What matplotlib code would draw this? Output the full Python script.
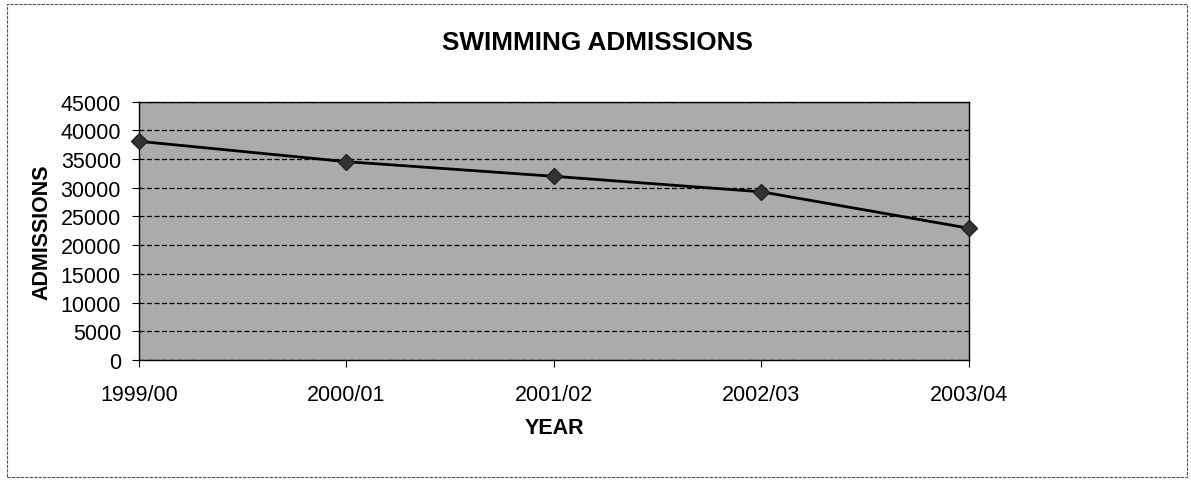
import matplotlib
matplotlib.use("Agg")
import matplotlib.pyplot as plt
from matplotlib.patches import Rectangle

# values
years = ["1999/00", "2000/01", "2001/02", "2002/03", "2003/04"]
admissions = [38100, 34550, 32000, 29300, 22950]
y_ticks = [0, 5000, 10000, 15000, 20000, 25000, 30000, 35000, 40000, 45000]

plt.rcParams["font.family"] = ["Liberation Sans", "DejaVu Sans"]

fig = plt.figure(figsize=(11.91, 4.81), dpi=100)
ax = fig.add_axes([0.1167, 0.2495, 0.8136 - 0.1167, 0.7865 - 0.2495])

ax.set_facecolor("#ababab")
x = list(range(len(years)))
ax.plot(x, admissions, color="black", linewidth=2, marker="D",
        markersize=8, markerfacecolor="#333333", markeredgecolor="#222222",
        zorder=3, clip_on=False)

ax.set_xlim(0, len(years) - 1)
ax.set_ylim(0, 45000)
ax.set_yticks(y_ticks)
ax.set_yticklabels([str(v) for v in y_ticks])
ax.set_xticks(x)
ax.set_xticklabels(years)
ax.tick_params(axis="both", labelsize=15.5, direction="out", length=5, width=0.8)
ax.tick_params(axis="x", pad=12)
ax.tick_params(axis="y", pad=8)
ax.grid(axis="y", color="black", linestyle=(0, (4, 2)), linewidth=0.9)
ax.set_axisbelow(True)
for s in ax.spines.values():
    s.set_color("black")
    s.set_linewidth(1.0)

# title sits a little right of the plot centre in the original
fig.text(597 / 1191, 1 - 43 / 481, "SWIMMING ADMISSIONS", fontsize=18.8,
         fontweight="bold", ha="center", va="center")
ax.set_xlabel("YEAR", fontsize=15.5, fontweight="bold", labelpad=9)
ax.set_ylabel("ADMISSIONS", fontsize=15.5, fontweight="bold", labelpad=6)

# outer chart border
fig.patches.append(Rectangle((7 / 1191, 3 / 481), 1180 / 1191, 473 / 481,
                             transform=fig.transFigure, fill=False,
                             edgecolor="#555555", linewidth=0.8, linestyle=(0, (3, 1))))

fig.savefig("out.png", dpi=100)
